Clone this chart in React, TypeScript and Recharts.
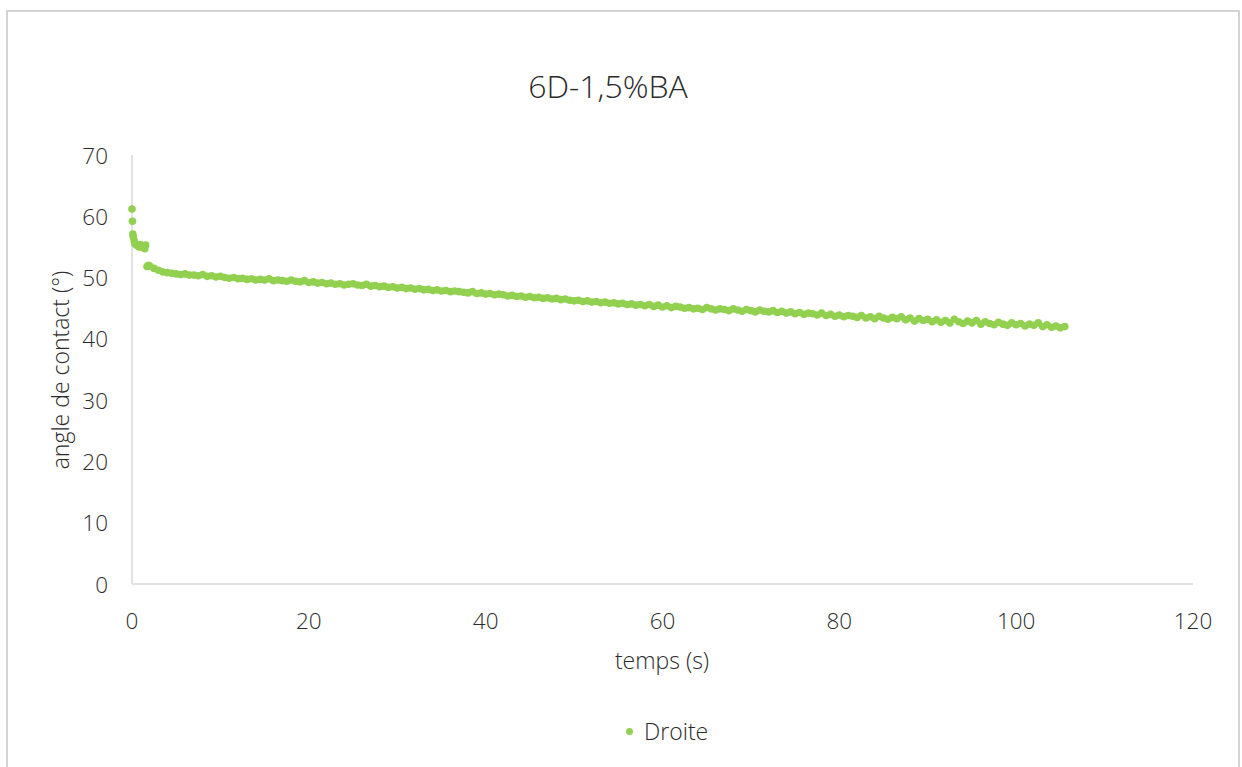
import React from "react";
import { ScatterChart, Scatter, XAxis, YAxis } from "recharts";

const title = "6D-1,5%BA";
const xLabel = "temps (s)";
const yLabel = "angle de contact (°)";
const seriesName = "Droite";
const xTicks = [0, 20, 40, 60, 80, 100, 120];
const yTicks = [0, 10, 20, 30, 40, 50, 60, 70];

// early transient readings (time s, angle °)
const earlyTimes = [0.0, 0.05, 0.1, 0.15, 0.25, 0.35, 0.5, 0.65, 0.8, 0.95, 1.1, 1.25, 1.35, 1.45, 1.55, 1.7, 1.85];
const earlyAngles = [61.2, 59.2, 57.1, 56.6, 56.0, 55.5, 55.3, 55.2, 55.0, 55.4, 55.0, 54.9, 55.2, 54.7, 55.3, 51.8, 52.0];

// main readings, sampled every 0.5 s from t = 2.0 s
const mainStart = 2.0;
const mainStep = 0.5;
const mainAngles = [
  51.9, 51.5, 51.2, 50.9, 50.8, 50.7, 50.6, 50.5, 50.6, 50.4,
  50.4, 50.3, 50.5, 50.2, 50.3, 50.1, 50.2, 50.0, 49.9, 50.0,
  49.8, 49.9, 49.7, 49.8, 49.6, 49.7, 49.6, 49.8, 49.5, 49.6,
  49.5, 49.4, 49.6, 49.4, 49.3, 49.5, 49.2, 49.3, 49.1, 49.2,
  49.0, 49.1, 48.9, 49.0, 48.8, 48.9, 49.0, 48.8, 48.7, 48.9,
  48.6, 48.7, 48.5, 48.6, 48.4, 48.5, 48.3, 48.4, 48.2, 48.3,
  48.1, 48.2, 48.0, 48.1, 47.9, 48.0, 47.8, 47.9, 47.7, 47.8,
  47.7, 47.6, 47.5, 47.7, 47.4, 47.5, 47.3, 47.4, 47.2, 47.3,
  47.2, 47.0, 47.1, 46.9, 47.0, 46.8, 46.9, 46.7, 46.8, 46.6,
  46.7, 46.5, 46.6, 46.4, 46.5, 46.3, 46.2, 46.3, 46.1, 46.2,
  46.0, 46.1, 45.9, 46.0, 45.8, 45.9, 45.7, 45.8, 45.6, 45.7,
  45.5, 45.6, 45.4, 45.6, 45.3, 45.5, 45.2, 45.4, 45.1, 45.3,
  45.2, 45.0, 45.1, 44.9, 45.0, 44.8, 45.1, 44.9, 44.7, 44.9,
  44.8, 44.6, 44.9, 44.7, 44.5, 44.8, 44.6, 44.4, 44.7, 44.5,
  44.4, 44.6, 44.3, 44.5, 44.2, 44.4, 44.1, 44.3, 44.0, 44.2,
  44.1, 43.9, 44.2, 43.8, 44.0, 43.7, 43.9, 43.6, 43.8, 43.7,
  43.5, 43.8, 43.4, 43.6, 43.3, 43.7, 43.4, 43.2, 43.5, 43.3,
  43.6, 43.1, 43.4, 42.9, 43.3, 43.0, 43.2, 42.8, 43.1, 42.7,
  43.0, 42.6, 43.2, 42.8, 42.5, 42.9, 42.6, 43.0, 42.4, 42.8,
  42.5, 42.3, 42.7, 42.4, 42.2, 42.6, 42.3, 42.5, 42.1, 42.4,
  42.2, 42.6, 42.0, 42.3, 41.9, 42.1, 41.8, 42.0,
];

const data = [
  ...earlyTimes.map((t, i) => ({ t, a: earlyAngles[i] })),
  ...mainAngles.map((a, i) => ({ t: mainStart + i * mainStep, a })),
];

const GREEN = "#92D050";
const TEXT = "#2b2b2b";
const BORDER = "#d4d4d4";
const FONT = "'Open Sans', 'Noto Sans', sans-serif";
const WEIGHT = 300;

const XTick = (props: any) => {
  const { x, y, payload } = props;
  return (
    <text x={x} y={y + 36} textAnchor="middle" dominantBaseline="central" fill={TEXT} fontSize={22.5} fontWeight={WEIGHT} fontFamily={FONT}>
      {payload.value}
    </text>
  );
};

const YTick = (props: any) => {
  const { x, y, payload } = props;
  return (
    <text x={x - 24} y={y} textAnchor="end" dominantBaseline="central" fill={TEXT} fontSize={22.5} fontWeight={WEIGHT} fontFamily={FONT}>
      {payload.value}
    </text>
  );
};

const Dot = (props: any) => <circle cx={props.cx} cy={props.cy} r={3.8} fill={GREEN} />;

export default function App() {
  return (
    <div style={{ position: "absolute", left: 0, top: 0, width: 1242, height: 767, overflow: "hidden", background: "#fff", fontFamily: FONT, fontWeight: WEIGHT }}>
      <div style={{ position: "absolute", left: 6, top: 10, width: 1233, height: 2, background: BORDER }} />
      <div style={{ position: "absolute", left: 6, top: 10, width: 2, height: 757, background: BORDER }} />
      <div style={{ position: "absolute", left: 1238, top: 10, width: 2, height: 757, background: BORDER }} />
      <div style={{ position: "absolute", left: 0, width: 1216, top: 65, textAlign: "center", fontSize: 32, color: TEXT, lineHeight: "42px" }}>
        {title}
      </div>
      <div style={{ position: "absolute", left: 0, top: 0 }}>
        <ScatterChart width={1242} height={767} margin={{ top: 155, right: 49, bottom: 123, left: 72 }}>
          <XAxis
            type="number"
            dataKey="t"
            domain={[0, 120]}
            ticks={xTicks}
            interval={0}
            tickLine={false}
            tickSize={0}
            tickMargin={0}
            axisLine={{ stroke: "#d9d9d9", strokeWidth: 1.5 }}
            tick={<XTick />}
            height={60}
          />
          <YAxis
            type="number"
            dataKey="a"
            domain={[0, 70]}
            ticks={yTicks}
            interval={0}
            tickLine={false}
            tickSize={0}
            tickMargin={0}
            axisLine={{ stroke: "#d9d9d9", strokeWidth: 1.5 }}
            tick={<YTick />}
            width={60}
          />
          <Scatter name={seriesName} data={data} fill={GREEN} shape={<Dot />} isAnimationActive={false} />
        </ScatterChart>
      </div>
      <div style={{ position: "absolute", left: 0, width: 1242, top: 644, textAlign: "center", paddingLeft: 82, boxSizing: "border-box", fontSize: 23, color: TEXT, lineHeight: "32px" }}>
        {xLabel}
      </div>
      <div
        style={{
          position: "absolute",
          left: 60,
          top: 370,
          transform: "translate(-50%, -50%) rotate(-90deg)",
          whiteSpace: "nowrap",
          fontSize: 23,
          color: TEXT,
          lineHeight: "32px",
        }}
      >
        {yLabel}
      </div>
      <div style={{ position: "absolute", left: 626, top: 716, display: "flex", alignItems: "center", fontSize: 23, color: TEXT, lineHeight: "30px" }}>
        <span style={{ display: "inline-block", width: 7, height: 7, borderRadius: 4, background: GREEN, marginRight: 11 }} />
        {seriesName}
      </div>
    </div>
  );
}
